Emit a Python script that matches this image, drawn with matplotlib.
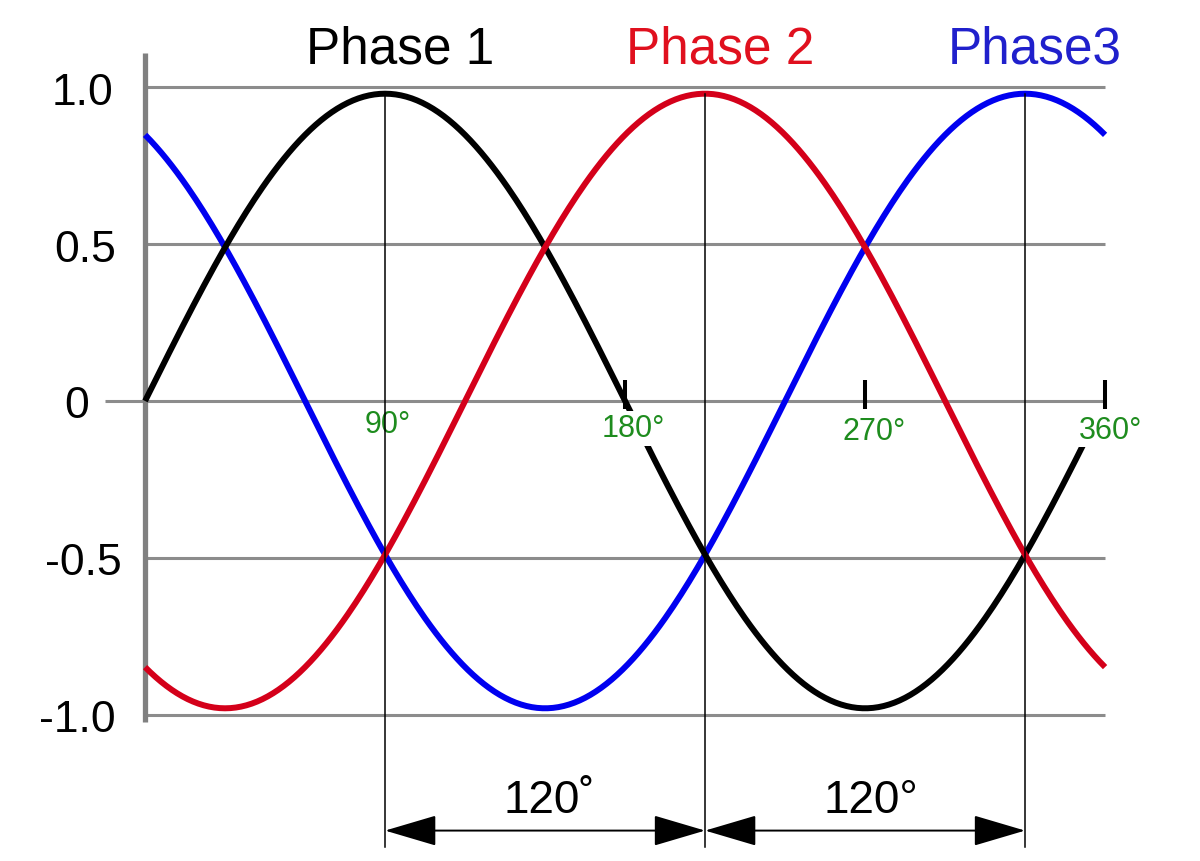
import numpy as np
import matplotlib
matplotlib.use("Agg")
import matplotlib.pyplot as plt

plt.rcParams["font.family"] = ["Liberation Sans", "DejaVu Sans"]

# chart data
phase_names = ["Phase 1", "Phase 2", "Phase3"]
phase_shift_deg = [0, 120, 240]
phase_end_deg = [354, 360, 360]
phase_colors = ["#000000", "#d4001a", "#0000f0"]
title_colors = ["#000000", "#e0101e", "#2020cc"]
amplitude = 0.98

y_levels = [1.0, 0.5, 0.0, -0.5, -1.0]
y_labels = ["1.0", "0.5", "0", "-0.5", "-1.0"]
deg_ticks = [90, 180, 270, 360]
deg_labels = ["90°", "180°", "270°", "360°"]
peak_deg = [90, 210, 330]
spacing_labels = ["120˚", "120°"]

GRID = "#8c8c8c"
GREEN = "#1e8c1e"

fig = plt.figure(figsize=(12, 8.62), dpi=100)
ax = fig.add_axes([0, 0, 1, 1])
ax.set_xlim(-54.4, 395.6)
ax.set_ylim(-1.467, 1.282)
ax.axis("off")

# grid lines and axes
for lv in y_levels:
    x0 = -15 if lv == 0 else 0
    ax.plot([x0, 360], [lv, lv], color=GRID, lw=2.2, zorder=1, solid_capstyle="butt")
ax.plot([0, 0], [1.11, -1.025], color="#808080", lw=3.8, zorder=2, solid_capstyle="butt")

# y labels (baseline offsets keep the digits centred on the lines)
y_label_x = [-23.6, -22.5, -25.5, -23.2, -25.5]
for lv, lab, lx in zip(y_levels, y_labels, y_label_x):
    ax.text(lx, lv - 0.052, lab, fontsize=32, ha="center", va="baseline", color="black")

# phase curves
curve_z = [3.1, 3.2, 3.0]
for shift, end, col, z in zip(phase_shift_deg, phase_end_deg, phase_colors, curve_z):
    ang = np.arange(0, end + 1, 1)
    y = amplitude * np.sin(np.radians(ang - shift))
    ax.plot(ang, y, color=col, lw=4.3, zorder=z, solid_capstyle="butt")

# phase titles
title_dx = [5.5, 5.5, 3.5]
for name, shift, col, dx in zip(phase_names, phase_shift_deg, title_colors, title_dx):
    ax.text(90 + shift + dx, 1.08, name, fontsize=37, ha="center", va="baseline", color=col)

# degree tick marks and labels
for d in deg_ticks[1:]:
    ax.plot([d, d], [0.067, -0.026], color="black", lw=2.9, zorder=6, solid_capstyle="butt")
label_dx = [1, 3, 3.5, 2]
label_y = [-0.098, -0.113, -0.121, -0.118]
for d, lab, dx, ly in zip(deg_ticks, deg_labels, label_dx, label_y):
    ax.text(d + dx, ly, lab, fontsize=22, ha="center", va="baseline", color=GREEN, zorder=4,
            bbox=dict(boxstyle="square,pad=0.08", fc="white", ec="none"))

# vertical marker lines at the peaks
for d in peak_deg:
    ax.plot([d, d], [amplitude, -1.423], color="black", lw=1.1, zorder=6)

# 120 degree spacing arrows
label_shift = [1.5, 2]
for (a, b), lab, sh in zip(zip(peak_deg[:-1], peak_deg[1:]), spacing_labels, label_shift):
    ax.annotate("", xy=(b, -1.37), xytext=(a, -1.37),
                arrowprops=dict(arrowstyle="<|-|>,head_length=2.2,head_width=0.65",
                                mutation_scale=15, color="black", lw=1.4,
                                shrinkA=0, shrinkB=0), zorder=6)
    ax.text((a + b) / 2 + sh, -1.312, lab, fontsize=33, ha="center", va="baseline", color="black")

fig.savefig("out.png", dpi=100, facecolor="white")
